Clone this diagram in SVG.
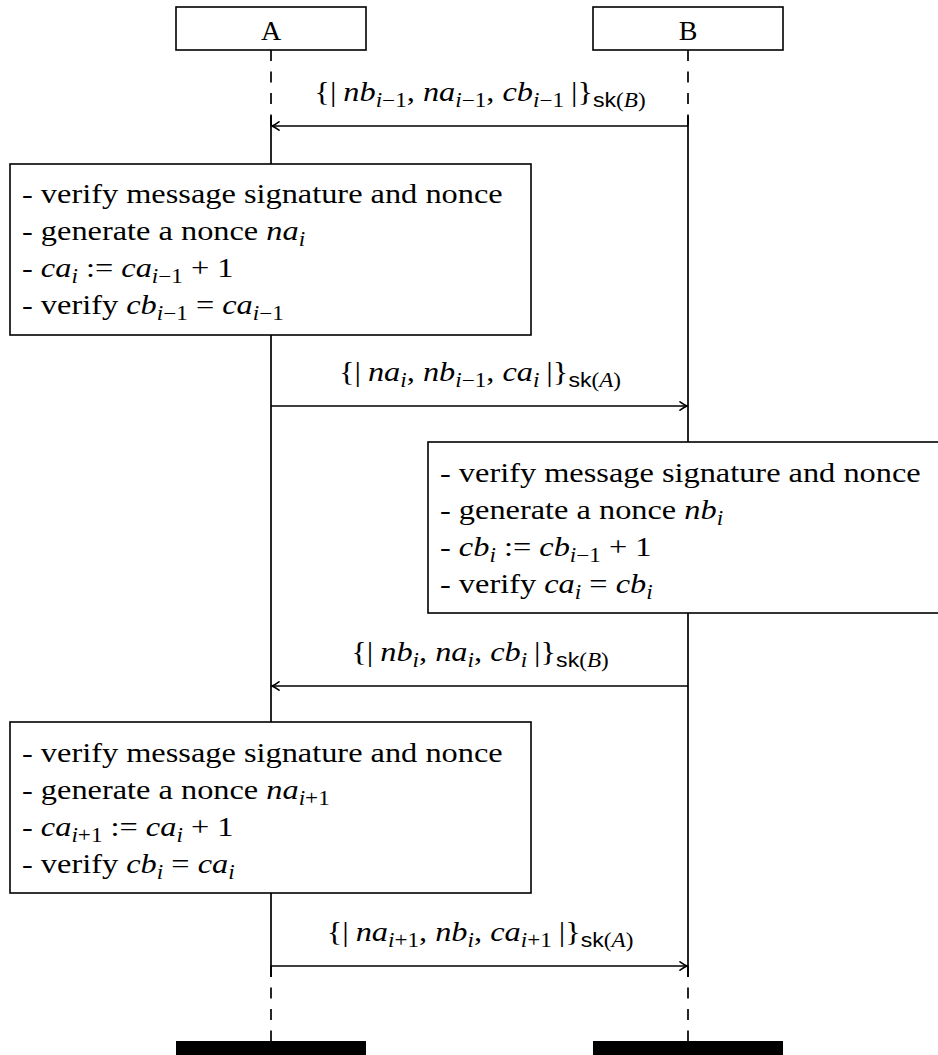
<svg xmlns="http://www.w3.org/2000/svg" width="938" height="1055" viewBox="0 0 938 1055">
<style>
.t{font-family:"Liberation Serif",serif;font-size:28px;fill:#000}
.it{font-style:italic}
.s{font-size:20px}
.sf{font-family:"Liberation Sans",sans-serif}
.box{fill:#fff;stroke:#000;stroke-width:1.6}
.ll{fill:none;stroke:#000;stroke-width:1.7}
.dash{stroke-dasharray:11 10.5}
.msg{fill:none;stroke:#000;stroke-width:1.6;marker-end:url(#ah)}
</style>
<defs>
<marker id="ah" viewBox="-10 -6 12 12" refX="0" refY="0" markerWidth="12" markerHeight="12" orient="auto" markerUnits="userSpaceOnUse">
<path d="M -7,-4.2 Q -2.5,-1 0,0 Q -2.5,1 -7,4.2" fill="none" stroke="#000" stroke-width="1.6" stroke-linecap="round"/>
</marker>
</defs>
<rect width="938" height="1055" fill="#fff"/>

<g id="connectors">
<line class="ll dash" x1="271" y1="50" x2="271" y2="126"/>
<line class="ll dash" x1="688" y1="50" x2="688" y2="126"/>
<line class="ll dash" x1="271" y1="966" x2="271" y2="1041"/>
<line class="ll dash" x1="688" y1="966" x2="688" y2="1041"/>
<line class="ll" x1="271" y1="116" x2="271" y2="977"/>
<line class="ll" x1="688" y1="116" x2="688" y2="977"/>
<line class="msg" x1="688" y1="126" x2="272" y2="126"/>
<line class="msg" x1="271" y1="406" x2="687" y2="406"/>
<line class="msg" x1="688" y1="686" x2="272" y2="686"/>
<line class="msg" x1="271" y1="966" x2="687" y2="966"/>
<text class="t" text-anchor="middle" transform="translate(480,101) scale(1.156,1)"><tspan>{</tspan><tspan>|</tspan><tspan class="it" dx="6">nb</tspan><tspan class="s" dy="6"><tspan class="it">i</tspan>−1</tspan><tspan dy="-6">, </tspan><tspan class="it">na</tspan><tspan class="s" dy="6"><tspan class="it">i</tspan>−1</tspan><tspan dy="-6">, </tspan><tspan class="it">cb</tspan><tspan class="s" dy="6"><tspan class="it">i</tspan>−1</tspan><tspan dy="-6" dx="6">|</tspan><tspan>}</tspan><tspan class="s" dy="6"><tspan class="sf">sk</tspan>(<tspan class="it">B</tspan>)</tspan></text>
<text class="t" text-anchor="middle" transform="translate(480,381) scale(1.156,1)"><tspan>{</tspan><tspan>|</tspan><tspan class="it" dx="6">na</tspan><tspan class="s it" dy="6">i</tspan><tspan dy="-6">, </tspan><tspan class="it">nb</tspan><tspan class="s" dy="6"><tspan class="it">i</tspan>−1</tspan><tspan dy="-6">, </tspan><tspan class="it">ca</tspan><tspan class="s it" dy="6">i</tspan><tspan dy="-6" dx="6">|</tspan><tspan>}</tspan><tspan class="s" dy="6"><tspan class="sf">sk</tspan>(<tspan class="it">A</tspan>)</tspan></text>
<text class="t" text-anchor="middle" transform="translate(480,661) scale(1.156,1)"><tspan>{</tspan><tspan>|</tspan><tspan class="it" dx="6">nb</tspan><tspan class="s it" dy="6">i</tspan><tspan dy="-6">, </tspan><tspan class="it">na</tspan><tspan class="s it" dy="6">i</tspan><tspan dy="-6">, </tspan><tspan class="it">cb</tspan><tspan class="s it" dy="6">i</tspan><tspan dy="-6" dx="6">|</tspan><tspan>}</tspan><tspan class="s" dy="6"><tspan class="sf">sk</tspan>(<tspan class="it">B</tspan>)</tspan></text>
<text class="t" text-anchor="middle" transform="translate(480,941) scale(1.156,1)"><tspan>{</tspan><tspan>|</tspan><tspan class="it" dx="6">na</tspan><tspan class="s" dy="6"><tspan class="it">i</tspan>+1</tspan><tspan dy="-6">, </tspan><tspan class="it">nb</tspan><tspan class="s it" dy="6">i</tspan><tspan dy="-6">, </tspan><tspan class="it">ca</tspan><tspan class="s" dy="6"><tspan class="it">i</tspan>+1</tspan><tspan dy="-6" dx="6">|</tspan><tspan>}</tspan><tspan class="s" dy="6"><tspan class="sf">sk</tspan>(<tspan class="it">A</tspan>)</tspan></text>
</g>

<g id="A">
<rect class="box" x="176" y="7" width="190" height="43"/>
<text class="t" x="271" y="40" text-anchor="middle">A</text>
<rect x="176" y="1041" width="190" height="14" fill="#000"/>
</g>
<g id="B">
<rect class="box" x="593" y="7" width="190" height="43"/>
<text class="t" x="688" y="40" text-anchor="middle">B</text>
<rect x="593" y="1041" width="190" height="14" fill="#000"/>
</g>

<g id="box1">
<rect class="box" x="10" y="164" width="521" height="171"/>
<g transform="translate(22,164) scale(1.156,1)">
<text class="t" y="39">- verify message signature and nonce</text>
<text class="t" y="76">- generate a nonce <tspan class="it">na</tspan><tspan class="s it" dy="6">i</tspan></text>
<text class="t" y="113">- <tspan class="it">ca</tspan><tspan class="s it" dy="6">i</tspan><tspan dy="-6"> := </tspan><tspan class="it">ca</tspan><tspan class="s" dy="6"><tspan class="it">i</tspan>−1</tspan><tspan dy="-6"> + 1</tspan></text>
<text class="t" y="150">- verify <tspan class="it">cb</tspan><tspan class="s" dy="6"><tspan class="it">i</tspan>−1</tspan><tspan dy="-6"> = </tspan><tspan class="it">ca</tspan><tspan class="s" dy="6"><tspan class="it">i</tspan>−1</tspan></text>
</g>
</g>

<g id="box2">
<rect class="box" x="428" y="442" width="521" height="171"/>
<g transform="translate(440,442) scale(1.156,1)">
<text class="t" y="40">- verify message signature and nonce</text>
<text class="t" y="77">- generate a nonce <tspan class="it">nb</tspan><tspan class="s it" dy="6">i</tspan></text>
<text class="t" y="114">- <tspan class="it">cb</tspan><tspan class="s it" dy="6">i</tspan><tspan dy="-6"> := </tspan><tspan class="it">cb</tspan><tspan class="s" dy="6"><tspan class="it">i</tspan>−1</tspan><tspan dy="-6"> + 1</tspan></text>
<text class="t" y="151">- verify <tspan class="it">ca</tspan><tspan class="s it" dy="6">i</tspan><tspan dy="-6"> = </tspan><tspan class="it">cb</tspan><tspan class="s it" dy="6">i</tspan></text>
</g>
</g>

<g id="box3">
<rect class="box" x="10" y="722" width="521" height="171"/>
<g transform="translate(22,722) scale(1.156,1)">
<text class="t" y="40">- verify message signature and nonce</text>
<text class="t" y="77">- generate a nonce <tspan class="it">na</tspan><tspan class="s" dy="6"><tspan class="it">i</tspan>+1</tspan></text>
<text class="t" y="114">- <tspan class="it">ca</tspan><tspan class="s" dy="6"><tspan class="it">i</tspan>+1</tspan><tspan dy="-6"> := </tspan><tspan class="it">ca</tspan><tspan class="s it" dy="6">i</tspan><tspan dy="-6"> + 1</tspan></text>
<text class="t" y="151">- verify <tspan class="it">cb</tspan><tspan class="s it" dy="6">i</tspan><tspan dy="-6"> = </tspan><tspan class="it">ca</tspan><tspan class="s it" dy="6">i</tspan></text>
</g>
</g>
</svg>
